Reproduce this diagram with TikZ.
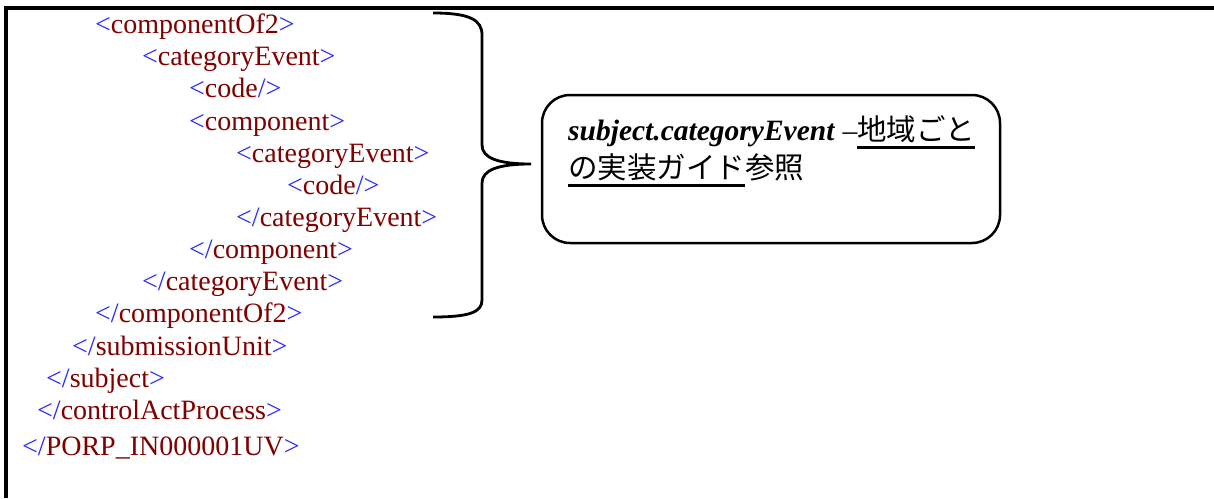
\documentclass[tikz,border=0pt]{standalone}
\usepackage{fontspec}
\setmainfont{Liberation Serif}
\newfontfamily\jpfont{Noto Sans CJK JP}
\usepackage{tikz}
\usetikzlibrary{positioning}

\definecolor{tagblue}{RGB}{40,40,255}
\definecolor{tagred}{RGB}{128,0,0}
% opening, closing and empty tags
\newcommand\otag[1]{\textcolor{tagblue}{<}\textcolor{tagred}{#1}\textcolor{tagblue}{>}}
\newcommand\ctag[1]{\textcolor{tagblue}{</}\textcolor{tagred}{#1}\textcolor{tagblue}{>}}
\newcommand\etag[1]{\textcolor{tagblue}{<}\textcolor{tagred}{#1}\textcolor{tagblue}{/>}}
% thick underline
\newcommand\jul[1]{\setbox0\hbox{#1}\rlap{\rule[-8.5pt]{\wd0}{3pt}}\box0}

\begin{document}
\begin{tikzpicture}[
		x=1pt, y=-1pt
		,tag/.style={anchor=base west, inner sep=0pt, font=\fontsize{28}{32}\selectfont}
		,note/.style={draw, line width=2.5pt, rounded corners=28pt, minimum width=458pt, minimum height=148pt, inner sep=0pt}
		,notetext/.style={anchor=base west, inner sep=0pt, font=\fontsize{29.5}{36}\selectfont}
		,brace/.style={draw, line width=2.8pt}
	]
		\useasboundingbox (0,0) rectangle (1214,498);
		% frame
		\draw[line width=3.5pt] (6,498) -- (6,8) -- (1214,8);
		% xml lines
		\node [tag] (l1) at (95,33) {\otag{componentOf2}};
		\node [tag] (l2) at (142,65) {\otag{categoryEvent}};
		\node [tag] (l3) at (189,97) {\etag{code}};
		\node [tag] (l4) at (189,130) {\otag{component}};
		\node [tag] (l5) at (236,162) {\otag{categoryEvent}};
		\node [tag] (l6) at (287,194) {\etag{code}};
		\node [tag] (l7) at (236,226) {\ctag{categoryEvent}};
		\node [tag] (l8) at (189,258) {\ctag{component}};
		\node [tag] (l9) at (142,290) {\ctag{categoryEvent}};
		\node [tag] (l10) at (95,322) {\ctag{componentOf2}};
		\node [tag] (l11) at (72,355) {\ctag{submissionUnit}};
		\node [tag] (l12) at (46,387) {\ctag{subject}};
		\node [tag] (l13) at (37,419) {\ctag{controlActProcess}};
		\node [tag] (l14) at (22,455) {\ctag{PORP\_IN000001UV}};
		% brace
		\draw[brace] (433,13) .. controls (470,13) and (482,20) .. (482,35)
			-- (482,145) .. controls (482,158) and (498,164) .. (531,164)
			.. controls (498,164) and (482,170) .. (482,183)
			-- (482,300) .. controls (482,312) and (470,317) .. (433,317);
		% callout
		\node [note] (box) at (771,169) {};
		\node [notetext] (txt1) at (568,140)
			{\textbf{\textit{subject.categoryEvent}} –\jul{\jpfont 地域ごと}};
		\node [notetext] (txt2) at (568,178)
			{\jul{\jpfont の実装ガイド}{\jpfont 参照}};
	\end{tikzpicture}
\end{document}
